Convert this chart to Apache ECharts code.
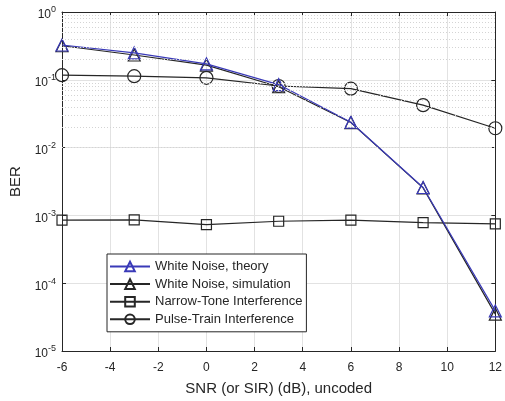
<!DOCTYPE html>
<html>
<head>
<meta charset="utf-8">
<script src="https://cdn.jsdelivr.net/npm/echarts@6/dist/echarts.min.js"></script>
<style>
  html, body { margin: 0; padding: 0; background: #fff; }
  #cn { width: 505px; height: 401px; }
</style>
</head>
<body>
<div id="cn"></div>
<script>
'use strict';

// SNR (dB)
const snr = [-6, -3, 0, 3, 6, 9, 12];

// BER curves
const whiteTheory = [0.326, 0.249, 0.172, 0.085, 0.0237, 0.00258, 3.9e-5];
const whiteSim = [0.318, 0.232, 0.165, 0.079, 0.0234, 0.00255, 3.5e-5];
const narrowTone = [8.5e-4, 8.6e-4, 7.3e-4, 8.2e-4, 8.5e-4, 7.8e-4, 7.5e-4];
const pulseTrain = [0.117, 0.113, 0.107, 0.081, 0.074, 0.0423, 0.0193];

const xTicks = [-6, -4, -2, 0, 2, 4, 6, 8, 10, 12];

const FONT = '"Liberation Sans", Arial, sans-serif';
const BLUE = '#3a3ab8';

const pair = (arr) => snr.map((x, i) => [x, arr[i]]);

// dotted minor grid lines for the log axis (2..9 in each decade)
let minorLines = [];
for (let d = -5; d < 0; d++) {
    for (let k = 2; k <= 9; k++) {
        minorLines.push({ yAxis: k * Math.pow(10, d) });
    }
}

const chart = echarts.init(document.getElementById('cn'));

const mkLine = (name, data, color, symbol, size, z) => ({
    name: name,
    type: 'line',
    data: pair(data),
    symbol: symbol,
    symbolSize: size,
    z: z,
    lineStyle: { color: color, width: 1.2 },
    itemStyle: { color: 'rgba(0,0,0,0)', borderColor: color, borderWidth: 1.2 },
    emphasis: { disabled: true }
});

const option = {
    backgroundColor: '#fff',
    animation: false,
    textStyle: { fontFamily: FONT },
    grid: { left: 62, right: 9, top: 12, bottom: 47 },
    legend: {
        orient: 'vertical',
        left: 107,
        top: 254,
        padding: [6, 4, 6, 2],
        itemWidth: 40,
        itemHeight: 12,
        itemGap: 4.6,
        backgroundColor: '#fff',
        borderColor: '#262626',
        borderWidth: 1,
        borderRadius: 0,
        textStyle: { fontFamily: FONT, fontSize: 13, color: '#262626' },
        data: ['White Noise, theory', 'White Noise, simulation', 'Narrow-Tone Interference', 'Pulse-Train Interference']
    },
    xAxis: [{
            type: 'value',
            min: -6,
            max: 12,
            interval: 2,
            name: 'SNR (or SIR) (dB), uncoded',
            nameLocation: 'middle',
            nameGap: 30,
            nameTextStyle: { fontFamily: FONT, fontSize: 15, color: '#262626' },
            axisLine: { show: true, onZero: false, lineStyle: { color: '#262626' } },
            axisTick: { show: true, inside: true, length: 4, lineStyle: { color: '#262626' } },
            axisLabel: { fontFamily: FONT, fontSize: 12, color: '#262626', margin: 11,
                customValues: xTicks },
            splitLine: { show: true, lineStyle: { color: '#e2e2e2', width: 1 } }
        },
        {
            type: 'value',
            position: 'top',
            min: -6,
            max: 12,
            interval: 2,
            axisLine: { show: true, onZero: false, lineStyle: { color: '#262626' } },
            axisTick: { show: true, inside: true, length: 4, lineStyle: { color: '#262626' } },
            axisLabel: { show: false },
            splitLine: { show: false }
        }
    ],
    yAxis: [{
            type: 'log',
            logBase: 10,
            min: 1e-5,
            max: 1,
            interval: 1,
            name: 'BER',
            nameLocation: 'middle',
            nameGap: 35,
            nameTextStyle: { fontFamily: FONT, fontSize: 15, color: '#262626' },
            axisLine: { show: true, onZero: false, lineStyle: { color: '#262626' } },
            axisTick: { show: true, inside: true, length: 4, lineStyle: { color: '#262626' } },
            axisLabel: {
                margin: 6,
                color: '#262626',
                formatter: (v) => {
                    const e = Math.round(Math.log10(v));
                    return '{b|10}{s|' + e + '}';
                },
                rich: {
                    b: { fontFamily: FONT, fontSize: 12, color: '#262626', padding: [6, 0, 0, 0] },
                    s: { fontFamily: FONT, fontSize: 9, color: '#262626', padding: [0, 0, 4, 0] }
                }
            },
            splitLine: { show: true, lineStyle: { color: '#e2e2e2', width: 1 } }
        },
        {
            type: 'log',
            logBase: 10,
            position: 'right',
            min: 1e-5,
            max: 1,
            interval: 1,
            axisLine: { show: true, onZero: false, lineStyle: { color: '#262626' } },
            axisTick: { show: true, inside: true, length: 4, lineStyle: { color: '#262626' } },
            axisLabel: { show: false },
            splitLine: { show: false }
        }
    ],
    series: [{
            name: 'grid-minor',
            type: 'line',
            data: [],
            silent: true,
            z: 1,
            markLine: {
                silent: true,
                symbol: 'none',
                animation: false,
                label: { show: false },
                lineStyle: { color: '#d4d4d4', type: [1, 2], width: 1 },
                data: minorLines
            }
        },
        mkLine('White Noise, simulation', whiteSim, '#262626', 'triangle', 12, 3),
        mkLine('White Noise, theory', whiteTheory, BLUE, 'triangle', 12, 4),
        mkLine('Narrow-Tone Interference', narrowTone, '#262626', 'rect', 10, 3),
        mkLine('Pulse-Train Interference', pulseTrain, '#262626', 'circle', 13, 3)
    ]
};

chart.setOption(option);
</script>
</body>
</html>
